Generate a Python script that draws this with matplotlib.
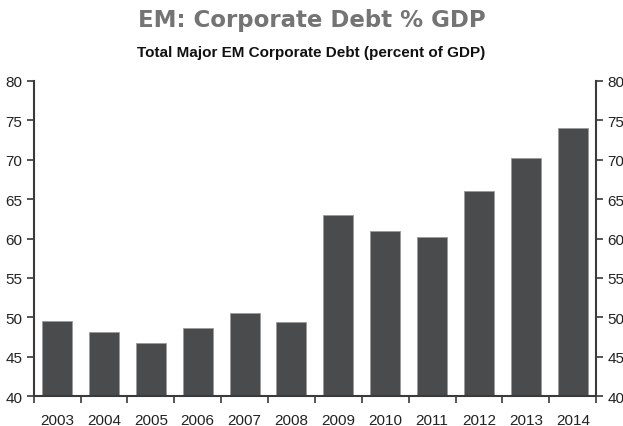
import matplotlib
matplotlib.use('Agg')
import matplotlib.pyplot as plt
import numpy as np

years = ['2003', '2004', '2005', '2006', '2007', '2008',
         '2009', '2010', '2011', '2012', '2013', '2014']
debt_pct_gdp = [49.5, 48.2, 46.7, 48.7, 50.6, 49.4,
                63.0, 60.9, 60.2, 66.0, 70.2, 74.0]
y_ticks = [40, 45, 50, 55, 60, 65, 70, 75, 80]

plt.rcParams['font.family'] = ['Liberation Sans', 'DejaVu Sans']
axis_col = '#3a3a3a'

fig = plt.figure(figsize=(6.23, 4.27), dpi=100)
ax = fig.add_axes([0.054, 0.070, 0.903, 0.738])

x = np.arange(len(years))
ax.bar(x, [v - 40 for v in debt_pct_gdp], bottom=40, width=0.64,
       color='#4a4b4d', edgecolor='#9a9a9a', linewidth=0.6)

ax.set_xlim(-0.5, len(years) - 0.5)
ax.set_ylim(40, 80)

# year labels sit under bars, ticks mark the category boundaries
ax.set_xticks(x)
ax.set_xticklabels(years)
ax.set_xticks(np.arange(len(years) + 1) - 0.5, minor=True)
ax.tick_params(axis='x', which='major', length=0, pad=12,
               labelsize=11, labelcolor='#222222')
ax.tick_params(axis='x', which='minor', length=5, width=1.2,
               direction='out', color=axis_col)

ax.set_yticks(y_ticks)
ax.tick_params(axis='y', which='major', length=5, width=1.2,
               direction='out', color=axis_col, labelsize=11,
               labelcolor='#222222', left=True, right=True,
               labelleft=True, labelright=True, pad=3)

for side in ['left', 'right', 'bottom']:
    ax.spines[side].set_color(axis_col)
    ax.spines[side].set_linewidth(1.5)
ax.spines['top'].set_visible(False)

fig.text(0.5, 0.952, 'EM: Corporate Debt % GDP', ha='center', va='center',
         fontsize=16.5, fontweight='bold', color='#747474',
         family=['DejaVu Sans'])
fig.text(0.5, 0.876, 'Total Major EM Corporate Debt (percent of GDP)',
         ha='center', va='center', fontsize=11, fontweight='bold',
         color='#111111')

fig.savefig('out.png', dpi=100)
